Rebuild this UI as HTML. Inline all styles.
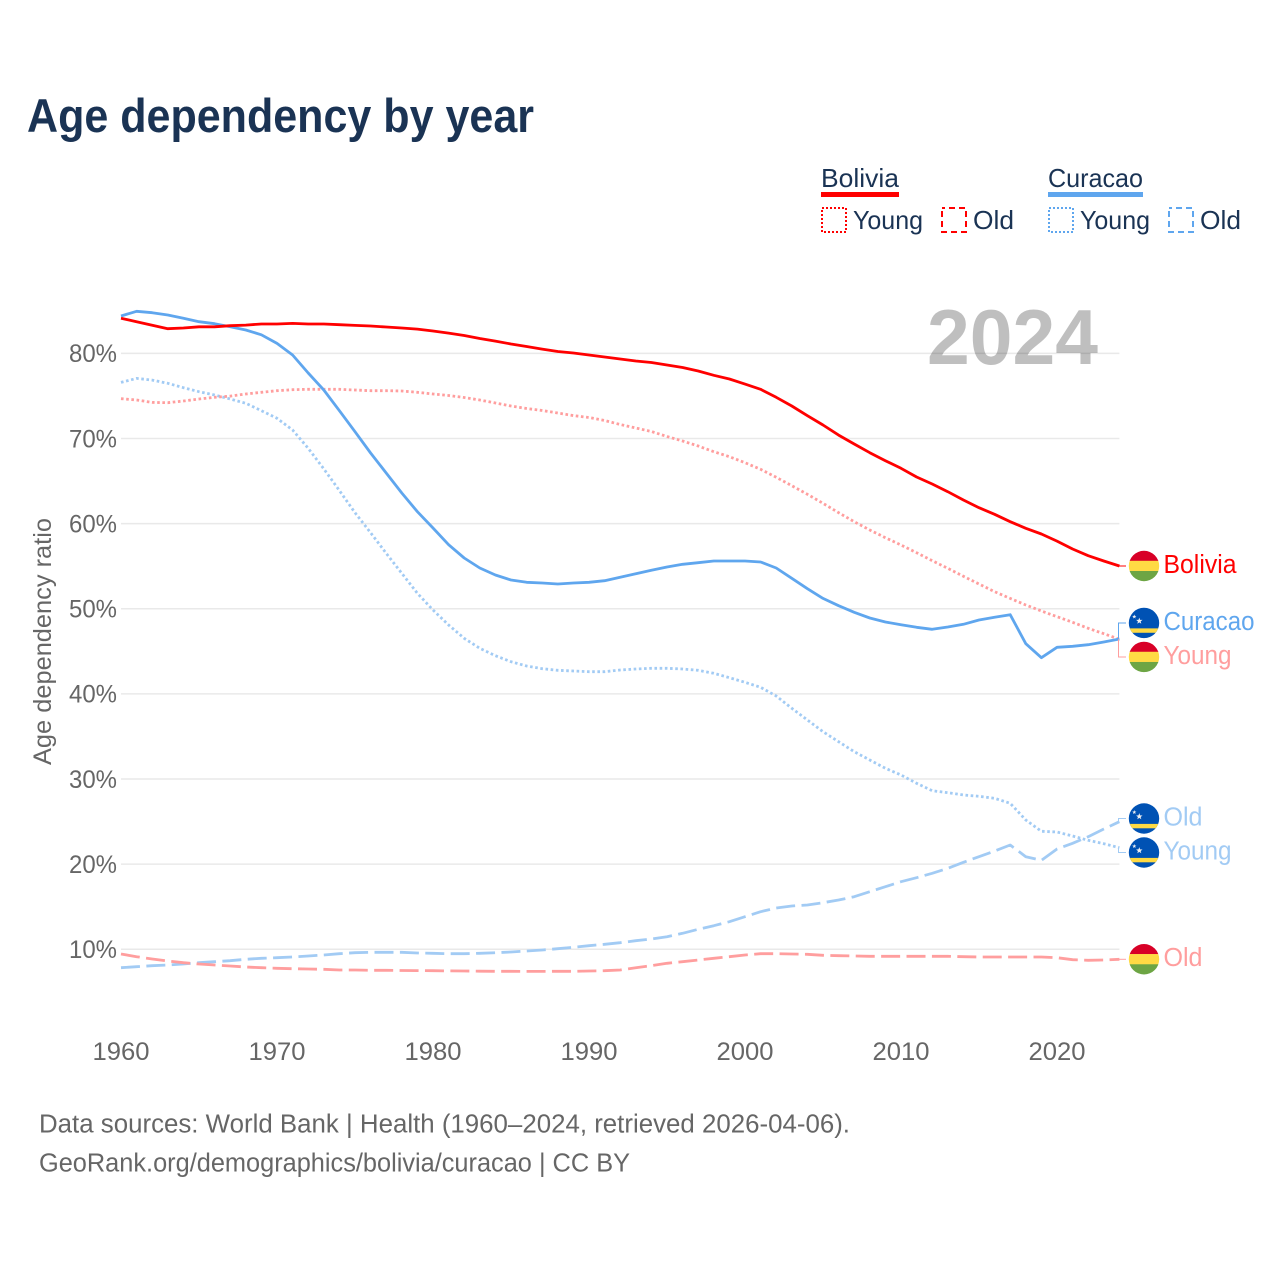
<!DOCTYPE html>
<html lang="en">
<head>
<meta charset="utf-8">
<title>Age dependency by year</title>
<style>
html,body{margin:0;padding:0;background:#fff;}
svg{display:block;font-family:"Liberation Sans","DejaVu Sans",sans-serif;}
.navy{fill:#1a3354;}
.grey{fill:#666;}
.tick{fill:#666;font-size:25px;}
.end-label{font-size:25.5px;}
.grid{stroke:#e9e9e9;stroke-width:1.5;}
.mark{fill:none;stroke-linejoin:round;stroke-width:2.8;}
.connector{fill:none;stroke-width:1;}
.dotted{stroke-dasharray:2.6 2.6;}
.dashed{stroke-dasharray:19 6.4;}
</style>
</head>
<body>
<svg id="chart" xmlns="http://www.w3.org/2000/svg" width="1280" height="1280" viewBox="0 0 1280 1280">
  <rect width="1280" height="1280" fill="#fff"/>
  <text x="27" y="132" class="navy" font-size="47" font-weight="700" textLength="507" lengthAdjust="spacingAndGlyphs">Age dependency by year</text>

  <g>
    <text x="821" y="187" class="navy" font-size="26" textLength="78" lengthAdjust="spacingAndGlyphs">Bolivia</text>
    <rect x="821" y="192" width="78" height="5" fill="#ff0000"/>
    <rect x="822" y="208" width="24" height="24" fill="none" stroke="#ff0000" stroke-width="2" stroke-dasharray="2 2"/>
    <text x="853" y="229" class="navy" font-size="26" textLength="70" lengthAdjust="spacingAndGlyphs">Young</text>
    <rect x="942" y="208" width="24" height="24" fill="none" stroke="#ff0000" stroke-width="2" stroke-dasharray="6 4" stroke-dashoffset="3"/>
    <text x="973" y="229" class="navy" font-size="26" textLength="41" lengthAdjust="spacingAndGlyphs">Old</text>

    <text x="1048" y="187" class="navy" font-size="26" textLength="95" lengthAdjust="spacingAndGlyphs">Curacao</text>
    <rect x="1048" y="192" width="95" height="5" fill="#5fa6ee"/>
    <rect x="1049" y="208" width="24" height="24" fill="none" stroke="#5fa6ee" stroke-width="2" stroke-dasharray="2 2"/>
    <text x="1080" y="229" class="navy" font-size="26" textLength="70" lengthAdjust="spacingAndGlyphs">Young</text>
    <rect x="1169" y="208" width="24" height="24" fill="none" stroke="#5fa6ee" stroke-width="2" stroke-dasharray="6 4" stroke-dashoffset="3"/>
    <text x="1200" y="229" class="navy" font-size="26" textLength="41" lengthAdjust="spacingAndGlyphs">Old</text>
  </g>

  <g id="grid-layer"></g>
  <text x="1098" y="364" text-anchor="end" font-size="78" font-weight="700" fill="#000" fill-opacity="0.25" textLength="171" lengthAdjust="spacingAndGlyphs">2024</text>
  <g id="y-ticks"></g>
  <g id="x-ticks"></g>
  <text transform="translate(51 765) rotate(-90)" class="grey" font-size="25" textLength="247" lengthAdjust="spacingAndGlyphs">Age dependency ratio</text>
  <g id="series-layer"></g>
  <g id="label-layer"></g>

  <text x="39" y="1132.5" class="grey" font-size="25.5" textLength="811" lengthAdjust="spacingAndGlyphs">Data sources: World Bank | Health (1960–2024, retrieved 2026-04-06).</text>
  <text x="39" y="1171.5" class="grey" font-size="25.5" textLength="591" lengthAdjust="spacingAndGlyphs">GeoRank.org/demographics/bolivia/curacao | CC BY</text>
</svg>
<script>
const years = [1960,1961,1962,1963,1964,1965,1966,1967,1968,1969,1970,1971,1972,1973,1974,1975,1976,1977,1978,1979,1980,1981,1982,1983,1984,1985,1986,1987,1988,1989,1990,1991,1992,1993,1994,1995,1996,1997,1998,1999,2000,2001,2002,2003,2004,2005,2006,2007,2008,2009,2010,2011,2012,2013,2014,2015,2016,2017,2018,2019,2020,2021,2022,2023,2024];
const xTickYears = [1960,1970,1980,1990,2000,2010,2020];
const yTickValues = [10,20,30,40,50,60,70,80];

const boliviaTotal = [84.11,83.71,83.29,82.89,82.97,83.12,83.12,83.24,83.32,83.44,83.44,83.52,83.44,83.44,83.36,83.28,83.21,83.09,82.97,82.85,82.62,82.38,82.09,81.74,81.44,81.09,80.80,80.50,80.21,80.04,79.80,79.57,79.33,79.10,78.92,78.63,78.33,77.92,77.42,76.98,76.39,75.77,74.83,73.81,72.67,71.58,70.40,69.35,68.33,67.39,66.49,65.47,64.65,63.75,62.77,61.87,61.09,60.22,59.45,58.78,57.95,57.02,56.23,55.61,55.02];
const boliviaYoung = [74.67,74.52,74.24,74.20,74.40,74.63,74.83,74.98,75.22,75.42,75.61,75.73,75.77,75.77,75.77,75.69,75.61,75.61,75.57,75.42,75.22,75.04,74.81,74.52,74.16,73.81,73.52,73.28,72.99,72.69,72.46,72.11,71.64,71.23,70.82,70.23,69.70,69.11,68.44,67.86,67.15,66.38,65.44,64.45,63.44,62.38,61.28,60.22,59.25,58.34,57.49,56.58,55.64,54.75,53.81,52.90,52.00,51.22,50.44,49.73,49.06,48.41,47.70,47.07,46.41];
const boliviaOld = [9.45,9.13,8.86,8.63,8.43,8.27,8.16,8.04,7.92,7.84,7.77,7.72,7.69,7.65,7.57,7.57,7.53,7.53,7.51,7.50,7.49,7.46,7.45,7.43,7.42,7.42,7.40,7.40,7.42,7.42,7.45,7.49,7.57,7.84,8.07,8.36,8.54,8.74,8.94,9.13,9.33,9.48,9.48,9.45,9.41,9.30,9.25,9.21,9.18,9.18,9.18,9.18,9.18,9.18,9.13,9.10,9.10,9.10,9.10,9.10,9.01,8.78,8.71,8.74,8.83];
const curacaoTotal = [84.38,84.93,84.77,84.50,84.11,83.71,83.48,83.12,82.74,82.18,81.17,79.80,77.69,75.69,73.26,70.79,68.29,65.94,63.59,61.40,59.48,57.52,55.96,54.78,53.96,53.37,53.10,53.02,52.90,53.02,53.10,53.29,53.69,54.11,54.51,54.90,55.22,55.41,55.61,55.61,55.61,55.49,54.78,53.57,52.35,51.22,50.36,49.58,48.91,48.44,48.12,47.82,47.58,47.85,48.17,48.68,48.99,49.30,45.89,44.25,45.47,45.59,45.78,46.09,46.44];
const curacaoYoung = [76.59,77.06,76.86,76.48,75.96,75.49,75.10,74.63,74.13,73.26,72.37,70.99,68.84,66.42,63.89,61.28,58.93,56.51,54.16,51.81,49.85,48.09,46.53,45.35,44.48,43.78,43.27,42.96,42.77,42.69,42.60,42.60,42.80,42.92,43.00,43.00,42.92,42.77,42.42,41.90,41.36,40.77,39.75,38.31,36.93,35.56,34.38,33.21,32.23,31.26,30.47,29.50,28.63,28.39,28.12,27.97,27.73,27.15,25.19,23.86,23.78,23.31,22.80,22.40,21.93];
const curacaoOld = [7.84,7.96,8.07,8.16,8.27,8.43,8.54,8.66,8.83,8.94,9.01,9.10,9.21,9.33,9.48,9.60,9.65,9.65,9.65,9.57,9.53,9.48,9.48,9.53,9.60,9.68,9.80,9.92,10.07,10.23,10.42,10.59,10.78,11.01,11.21,11.48,11.88,12.35,12.77,13.24,13.83,14.42,14.85,15.09,15.20,15.47,15.79,16.18,16.76,17.35,17.94,18.41,18.93,19.51,20.22,20.88,21.55,22.25,20.88,20.45,21.78,22.45,23.22,24.13,24.99];

const NS = 'http://www.w3.org/2000/svg';
const xScale = function (year) { return 121 + (year - 1960) * 15.6; };
const yScale = function (value) { return 949.3 - (value - 10) * 8.514; };
const plotRight = xScale(2024);

function make(tag, attrs, parent) {
  const el = document.createElementNS(NS, tag);
  Object.keys(attrs).forEach(function (k) { el.setAttribute(k, attrs[k]); });
  parent.appendChild(el);
  return el;
}

const gridLayer = document.getElementById('grid-layer');
const yTicks = document.getElementById('y-ticks');
yTickValues.forEach(function (v) {
  const line = make('line', {x1: 121, x2: plotRight, y1: yScale(v), y2: yScale(v), class: 'grid'}, gridLayer);
  
  
  const label = make('text', {x: 117, y: yScale(v) + 8.8, 'text-anchor': 'end', class: 'tick', textLength: 48, lengthAdjust: 'spacingAndGlyphs'}, yTicks);
  label.textContent = v + '%';
  
  
});

const xTicks = document.getElementById('x-ticks');
xTickYears.forEach(function (yr) {
  const label = make('text', {x: xScale(yr), y: 1060, 'text-anchor': 'middle', class: 'tick', textLength: 57, lengthAdjust: 'spacingAndGlyphs'}, xTicks);
  label.textContent = String(yr);
  
  
});

const seriesLayer = document.getElementById('series-layer');
function drawSeries(values, name, color, dashClass) {
  const d = values.map(function (v, i) {
    return (i ? 'L' : 'M') + xScale(years[i]).toFixed(1) + ' ' + yScale(v).toFixed(1);
  }).join(' ');
  const path = make('path', {d: d, stroke: color, class: 'mark ' + dashClass}, seriesLayer);
  
  
}
drawSeries(curacaoOld, 'line-curacao-old', '#a2cbf4', 'dashed');
drawSeries(boliviaOld, 'line-bolivia-old', '#ff9e9e', 'dashed');
drawSeries(curacaoYoung, 'line-curacao-young', '#a2cbf4', 'dotted');
drawSeries(boliviaYoung, 'line-bolivia-young', '#ff9e9e', 'dotted');
drawSeries(curacaoTotal, 'line-curacao-total', '#5fa6ee', '');
drawSeries(boliviaTotal, 'line-bolivia-total', '#ff0000', '');

/* end labels: placed at the last value of each series, pushed apart when they collide */
const labelLayer = document.getElementById('label-layer');
function labelEntry(values, text, width, color, flag, slug) {
  return {end: yScale(values[values.length - 1]), text: text, width: width, color: color, flag: flag, slug: slug};
}
const labels = [
  labelEntry(boliviaTotal, 'Bolivia', 73, '#ff0000', 'bolivia', 'bolivia-total'),
  labelEntry(curacaoTotal, 'Curacao', 91, '#5fa6ee', 'curacao', 'curacao-total'),
  labelEntry(boliviaYoung, 'Young', 68, '#ff9e9e', 'bolivia', 'bolivia-young'),
  labelEntry(curacaoOld, 'Old', 39, '#a2cbf4', 'curacao', 'curacao-old'),
  labelEntry(curacaoYoung, 'Young', 68, '#a2cbf4', 'curacao', 'curacao-young'),
  labelEntry(boliviaOld, 'Old', 39, '#ff9e9e', 'bolivia', 'bolivia-old')
];
const gap = 34;
const sorted = labels.slice().sort(function (a, b) { return a.end - b.end; });
let i = 0;
while (i < sorted.length) {
  let j = i;
  while (j + 1 < sorted.length && sorted[j + 1].end - sorted[j].end < gap) j++;
  const n = j - i + 1;
  let sum = 0;
  for (let k = i; k <= j; k++) sum += sorted[k].end;
  const centre = sum / n + (n > 1 ? 0.8 : 0);
  for (let k = i; k <= j; k++) sorted[k].cy = centre + (k - i - (n - 1) / 2) * gap;
  i = j + 1;
}

function star(parent, cx, cy, r) {
  const pts = [];
  for (let k = 0; k < 10; k++) {
    const rad = k % 2 ? r * 0.42 : r;
    const ang = -Math.PI / 2 + k * Math.PI / 5;
    pts.push((cx + rad * Math.cos(ang)).toFixed(2) + ',' + (cy + rad * Math.sin(ang)).toFixed(2));
  }
  return make('polygon', {points: pts.join(' '), fill: '#f0f0f0'}, parent);
}

function drawFlag(kind, cy, slug) {
  const cx = 1144;
  const clipId = 'clip-' + slug;
  const clip = make('clipPath', {id: clipId}, labelLayer);
  make('circle', {cx: cx, cy: cy, r: 15.2}, clip);
  const g = make('g', {'clip-path': 'url(#' + clipId + ')'}, labelLayer);
  
  
  if (kind === 'bolivia') {
    make('rect', {x: cx - 16, y: cy - 16, width: 32, height: 11, fill: '#d80027'}, g);
    make('rect', {x: cx - 16, y: cy - 5.2, width: 32, height: 10.4, fill: '#ffda44'}, g);
    make('rect', {x: cx - 16, y: cy + 5, width: 32, height: 11, fill: '#6da544'}, g);
  } else {
    make('rect', {x: cx - 16, y: cy - 16, width: 32, height: 32, fill: '#0052b4'}, g);
    make('rect', {x: cx - 16, y: cy + 5.4, width: 32, height: 4.4, fill: '#ffda44'}, g);
    star(g, cx - 4.7, cy - 2, 3.4);
    star(g, cx - 9.7, cy - 6.3, 2.2);
  }
}

labels.forEach(function (lab) {
  const conn = make('path', {d: 'M1118.5 ' + lab.end.toFixed(1) + ' V' + lab.cy.toFixed(1) + ' H1126', stroke: lab.color, class: 'connector'}, labelLayer);
  
  
  drawFlag(lab.flag, lab.cy, lab.slug);
  const t = make('text', {x: 1163.5, y: lab.cy + 6.9, fill: lab.color, class: 'end-label', textLength: lab.width, lengthAdjust: 'spacingAndGlyphs'}, labelLayer);
  t.textContent = lab.text;
  
  
});
</script>
</body>
</html>
